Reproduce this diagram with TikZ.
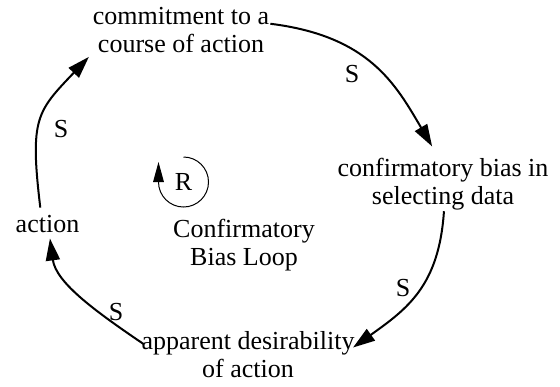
\documentclass[tikz,border=0pt]{standalone}
\usepackage{fontspec}
\setmainfont{Liberation Serif}
\usetikzlibrary{arrows.meta}

\begin{document}
\begin{tikzpicture}[x=0.75pt,y=0.75pt,yscale=-1,xscale=1,
  var/.style={inner sep=0.75pt,align=center,font=\fontsize{19.5}{21}\selectfont},
  link/.style={line width=1.5pt,-{Triangle[length=16.5pt,width=10.5pt]}},
  pol/.style={inner sep=0pt,font=\fontsize{19.5}{21}\selectfont}]
\useasboundingbox (0,0) rectangle (560,386);

% Variables
\node[var] (commit) at (181,30) {commitment to a\\course of action};
\node[var] (confirm) at (443,184) {confirmatory bias in\\selecting data};
\node[var,anchor=base] (action) at (47.5,232) {action};
\node[var] (apparent) at (248,355) {apparent desirability\\of action};

% Loop marker
\node[var] (loopR) at (183.5,182) {R};
\node[var] (looplabel) at (244,245.5) {Confirmatory\\Bias Loop};
\draw[line width=0.75pt,-{Triangle[length=15pt,width=8pt]}] (loopR.center) ++(0,-25) arc[start angle=-90,end angle=180,radius=25] -- ++(0,-20);

% Links
\draw[link,shorten >=9pt] (commit.4) .. controls (369,36) and (395.5,84) .. (confirm.100);
\draw[link,shorten >=-2.5pt] (confirm.-88) .. controls (439,286) and (407,309) .. (apparent.5);
\draw[link,shorten <=-3pt,shorten >=3.75pt] (apparent.173) .. controls (96.5,312) and (56,283) .. (action.-80);
\draw[link,shorten <=4.5pt,shorten >=3pt] (action.123) .. controls (29.6,118) and (36.8,111.6) .. (commit.south west);

% Polarities
\node[pol] (s1) at (352,74) {S};
\node[pol] (s2) at (403,288) {S};
\node[pol] (s3) at (116,312) {S};
\node[pol] (s4) at (61,129) {S};

\end{tikzpicture}
\end{document}
